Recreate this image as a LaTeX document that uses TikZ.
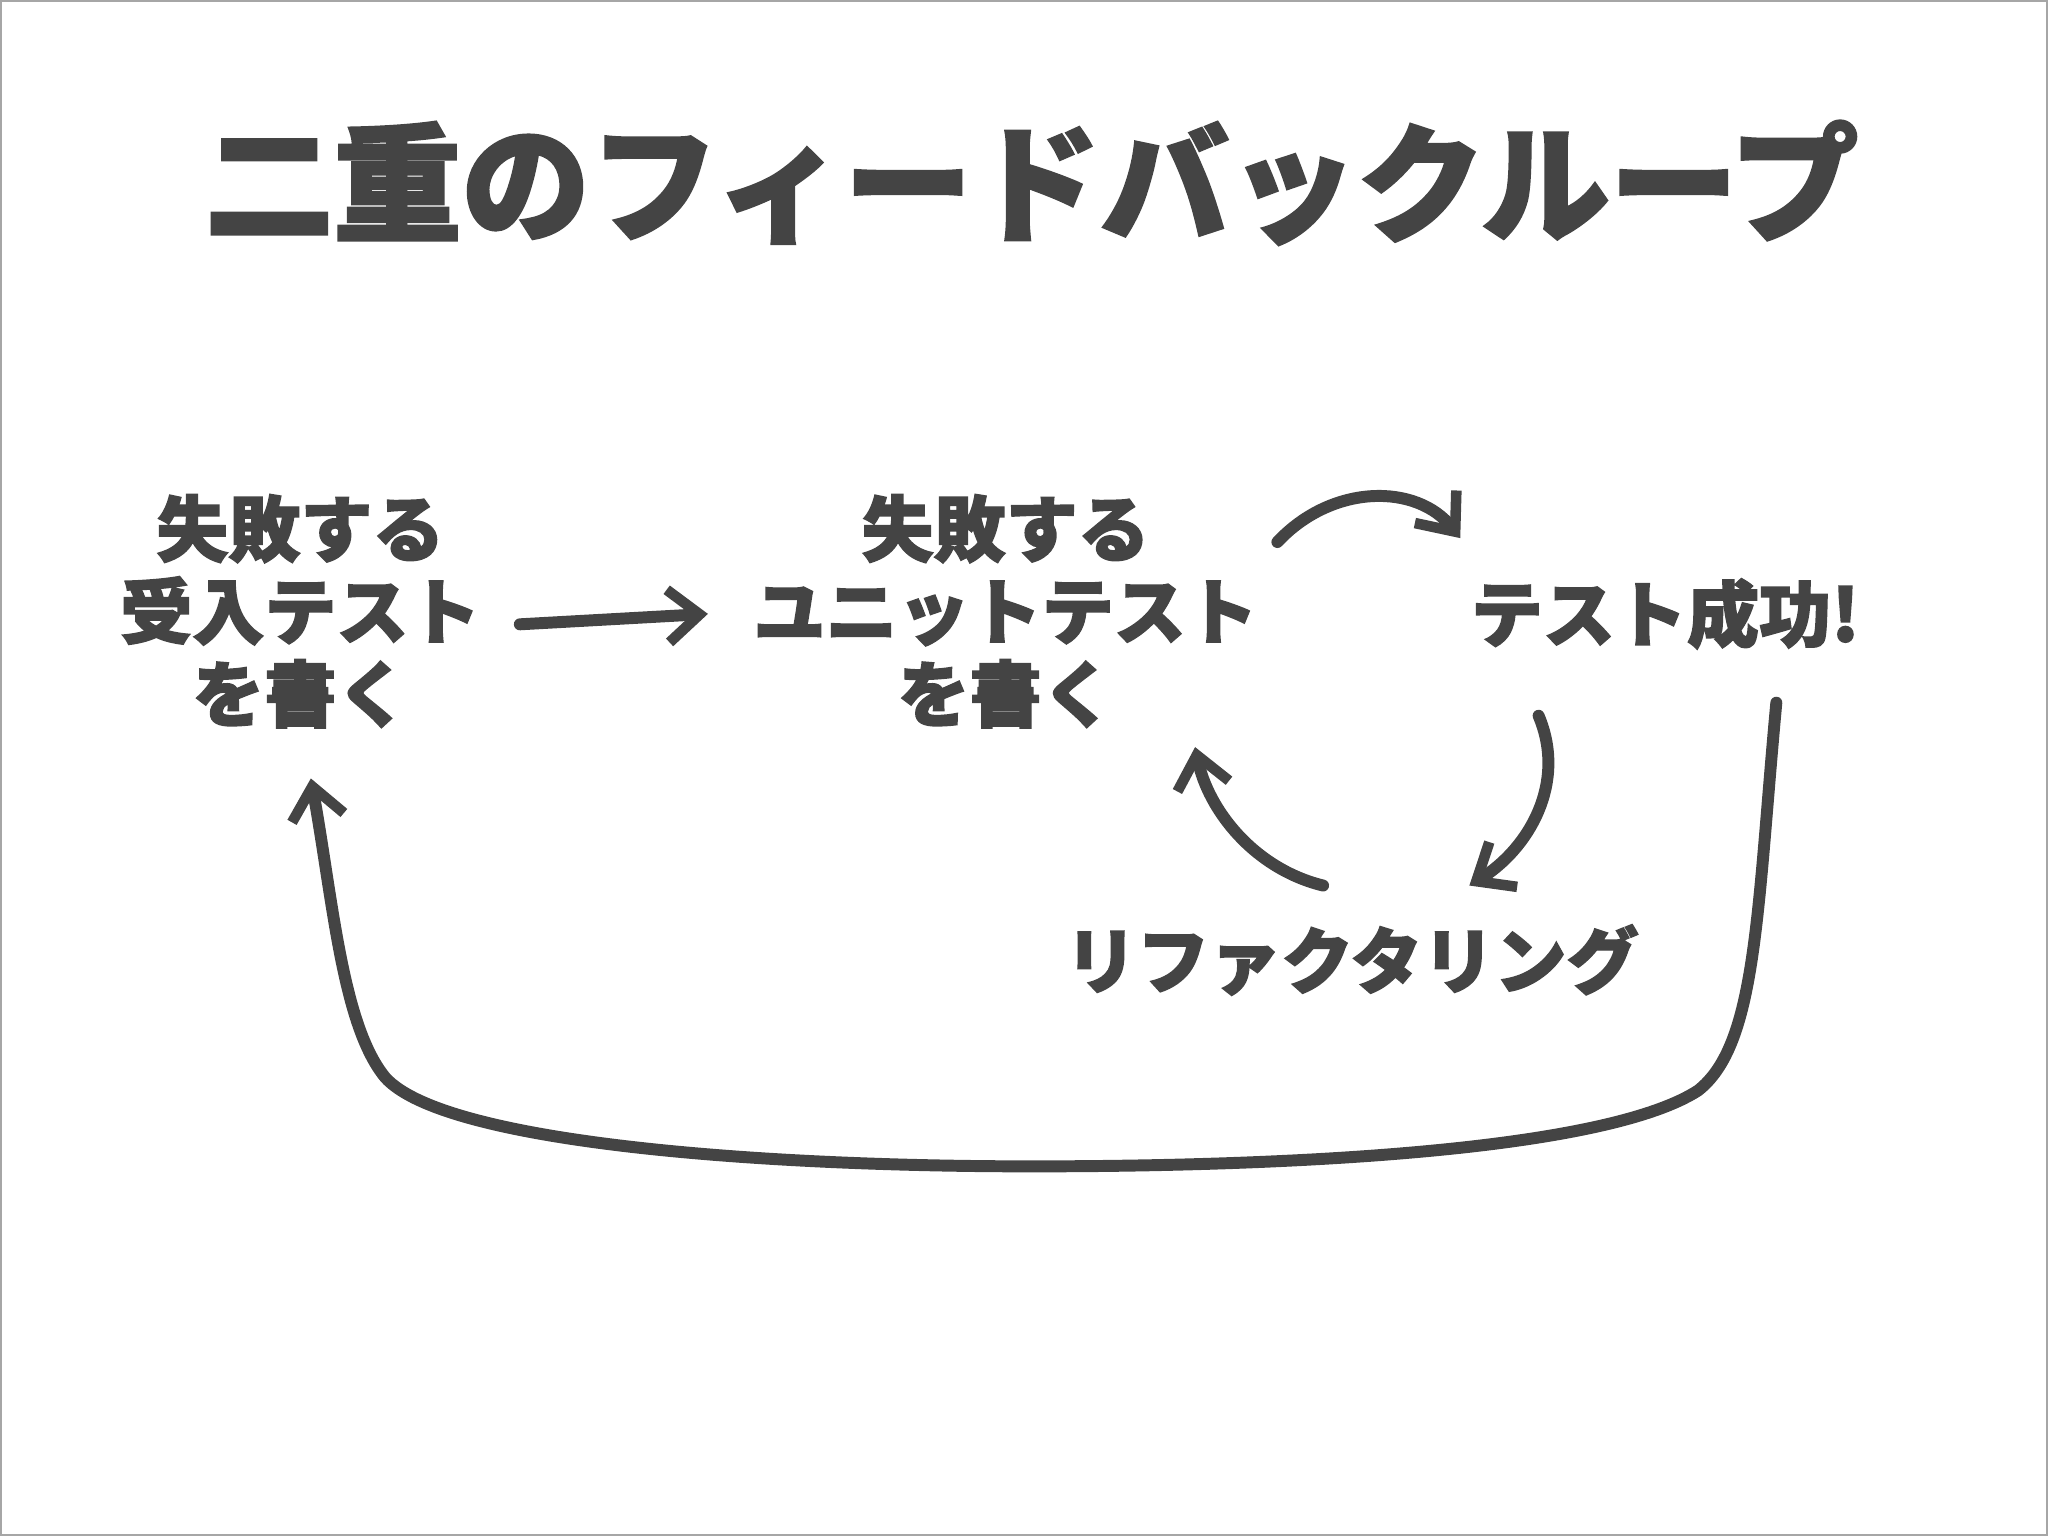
\documentclass[tikz,border=0pt]{standalone}
\usepackage{fontspec}
\setmainfont{Noto Sans CJK JP}[BoldFont={Noto Sans CJK JP Black},BoldFeatures={FakeBold=2}]
\usetikzlibrary{arrows.meta}
\definecolor{ink}{HTML}{444444}
\begin{document}
\begin{tikzpicture}[x=0.013061cm,y=-0.013061cm,
  lbl/.style={text=ink,font=\fontsize{20.5}{23.5}\selectfont\bfseries,align=center},
  chalk/.style={draw=ink,line width=3.4pt,line cap=round,line join=round,
    -{Straight Barb[length=9pt,width=15pt,line width=3pt]}}]
\path[draw=gray!70,line width=0.6pt] (1,1) rectangle (1567,1175);
\useasboundingbox (0,0) rectangle (1568,1176);
\node[text=ink,font=\fontsize{36.5}{42}\selectfont\bfseries] (title) at (790,140) {二重のフィードバックループ};
\node[lbl] (A) at (230,468) {失敗する\\受入テスト\\を書く};
\node[lbl] (B) at (770,468) {失敗する\\ユニットテスト\\を書く};
\node[lbl] (C) at (1275,470) {テスト成功!};
\node[lbl] (D) at (1035,735) {リファクタリング};
\coordinate (a1) at (398,478); \coordinate (a2) at (542,470);
\draw[chalk] (a1) -- (a2);
\coordinate (b1) at (978,415); \coordinate (b2) at (1118,412);
\draw[chalk] (b1) .. controls (1020,370) and (1085,370) .. (b2);
\coordinate (c1) at (1178,548); \coordinate (c2) at (1125,678);
\draw[chalk] (c1) .. controls (1200,600) and (1170,650) .. (c2);
\coordinate (d1) at (1013,678); \coordinate (d2) at (915,572);
\draw[chalk] (d1) .. controls (960,665) and (925,620) .. (d2);
\coordinate (e1) at (1360,538); \coordinate (e2) at (238,596);
\draw[chalk] (e1) .. controls (1345,700) and (1345,800) .. (1300,835)
  .. controls (1230,880) and (1000,893) .. (790,893)
  .. controls (580,893) and (340,875) .. (295,825)
  .. controls (262,785) and (255,690) .. (e2);
\end{tikzpicture}
\end{document}
